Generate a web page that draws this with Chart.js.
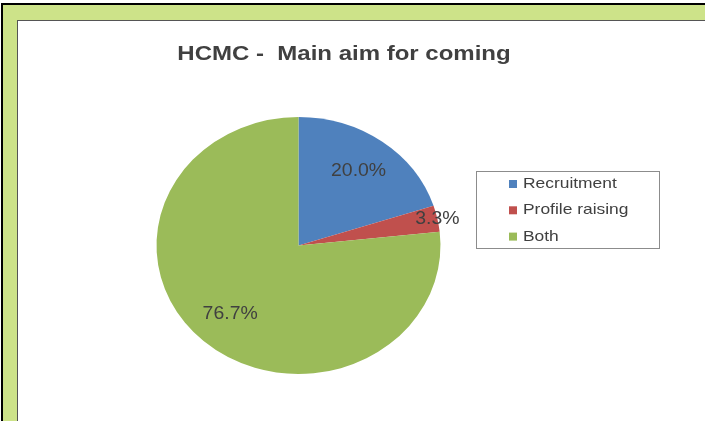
<!DOCTYPE html>
<html>
<head>
<meta charset="utf-8">
<script src="https://cdn.jsdelivr.net/npm/chart.js@4.4.1/dist/chart.umd.min.js"></script>
<style>
html, body { margin: 0; padding: 0; background: #fff; overflow: hidden; width: 705px; height: 421px; }
#frame { position: absolute; left: 1px; top: 3px; width: 702px; height: 416px;
  background: #cde389; border-left: 2px solid #000; border-top: 2px solid #000; }
#inner { position: absolute; left: 17px; top: 20px; width: 687px; height: 400px;
  background: #fff; border-left: 1px solid #555; border-top: 1px solid #555; }
#wrap { position: absolute; left: 0; top: 0; width: 705px; height: 421px; }
</style>
</head>
<body>
<div id="frame"></div>
<div id="inner"></div>
<div id="wrap"><canvas id="myChart" width="705" height="421"></canvas></div>
<script>
var title = 'HCMC -  Main aim for coming';
var labels = ['Recruitment', 'Profile raising', 'Both'];
var values = [20.0, 3.3, 76.7];
var colors = ['#4F81BD', '#C0504D', '#9BBB59'];

var textColor = '#404040';
var sx = 1.105; // picture is stretched sideways, pie is an ellipse

// stretch the slices around the centre
var stretch = {
    id: 'stretch',
    beforeDatasetsDraw: function(chart) {
        var a = chart.getDatasetMeta(0).data[0];
        var ctx = chart.ctx;
        ctx.save();
        ctx.translate(a.x, a.y);
        ctx.scale(sx, 1);
        ctx.translate(-a.x, -a.y);
    },
    afterDatasetsDraw: function(chart) {
        chart.ctx.restore();
    }
};

// percent labels, title and boxed legend
var extras = {
    id: 'extras',
    afterDraw: function(chart) {
        var ctx = chart.ctx;
        var meta = chart.getDatasetMeta(0);
        var total = values.reduce(function(s, v) { return s + v; }, 0);

        ctx.save();
        ctx.fillStyle = textColor;
        ctx.textAlign = 'center';
        ctx.textBaseline = 'middle';
        ctx.font = '18px "Liberation Sans", Arial, sans-serif';
        meta.data.forEach(function(arc, i) {
            var mid = (arc.startAngle + arc.endAngle) / 2;
            var pct = values[i] / total * 100;
            var f = pct < 10 ? 1.0 : 0.72;
            var x = arc.x + Math.cos(mid) * arc.outerRadius * f * sx;
            var y = arc.y + Math.sin(mid) * arc.outerRadius * f;
            ctx.save();
            ctx.translate(x, y);
            ctx.scale(1.08, 1);
            ctx.fillText(pct.toFixed(1) + '%', 0, 0);
            ctx.restore();
        });

        // title
        ctx.save();
        ctx.translate(344, 54);
        ctx.scale(1.2, 1);
        ctx.font = 'bold 20px "Liberation Sans", Arial, sans-serif';
        ctx.fillText(title, 0, 0);
        ctx.restore();

        // legend
        ctx.strokeStyle = '#8c8c8c';
        ctx.lineWidth = 1;
        ctx.strokeRect(476.5, 171.5, 183, 77);
        ctx.textAlign = 'left';
        labels.forEach(function(lab, i) {
            var y = 184 + i * 26.3;
            ctx.fillStyle = colors[i];
            ctx.fillRect(509, y - 4, 8, 8);
            ctx.fillStyle = textColor;
            ctx.save();
            ctx.translate(523, y);
            ctx.scale(1.2, 1);
            ctx.font = '14.5px "Liberation Sans", Arial, sans-serif';
            ctx.fillText(lab, 0, 0);
            ctx.restore();
        });
        ctx.restore();
    }
};

var ctx = document.getElementById('myChart');
var myChart = new Chart(ctx, {
    type: 'pie',
    data: {
        labels: labels,
        datasets: [{
            data: values,
            backgroundColor: colors,
            borderWidth: 0
        }]
    },
    options: {
        responsive: false,
        animation: false,
        layout: { padding: { left: 170, right: 278, top: 117, bottom: 47 } },
        plugins: {
            legend: { display: false },
            title: { display: false },
            tooltip: { enabled: false }
        }
    },
    plugins: [stretch, extras]
});
</script>
</body>
</html>
